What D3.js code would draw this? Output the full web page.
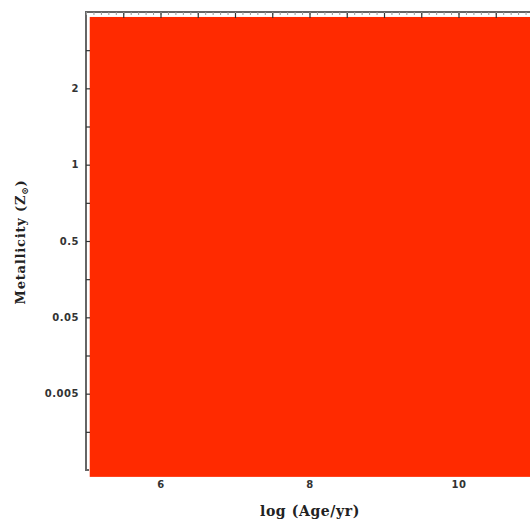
<!DOCTYPE html>
<html>
<head>
<meta charset="utf-8">
<script src="https://cdn.jsdelivr.net/npm/d3@7"></script>
<style>
  body { margin: 0; background: #fff; }
  .tick text { font-family: "DejaVu Sans", sans-serif; font-weight: bold; font-size: 10px; fill: #333; letter-spacing: 0.5px; }
  .lbl { font-family: "DejaVu Serif", serif; font-weight: bold; fill: #222; }
</style>
</head>
<body>
<div id="chart"></div>
<script>
// age range (log yr) shown on the x axis
var ageDomain = [5, 11];
// metallicity rows, bottom to top; only every second row is labelled
var zLabels = ["", "", "0.005", "", "0.05", "", "0.5", "", "1", "", "2", "", ""];
// the filled cell: log age from/to, row index from/to
var cellAge = [5.05, 11.2];
var cellRow = [-0.18, 11.87];
var cellColor = "#ff2a00";

var width = 530, height = 524;
var svg = d3.select("#chart").append("svg")
    .attr("width", width)
    .attr("height", height);

var x = d3.scaleLinear().domain(ageDomain).range([86, 533]);
var y = d3.scaleLinear().domain([0, zLabels.length - 1]).range([470, 12]);

// red cell
svg.append("rect")
    .attr("x", x(cellAge[0]))
    .attr("y", y(cellRow[1]))
    .attr("width", x(cellAge[1]) - x(cellAge[0]))
    .attr("height", y(cellRow[0]) - y(cellRow[1]))
    .attr("fill", cellColor);

// frame
svg.append("path")
    .attr("d", "M" + x(11.5) + "," + y(12) + "H" + x(5) + "V" + y(0) + "H" + (x(5) + 3))
    .attr("fill", "none")
    .attr("stroke", "#666")
    .attr("stroke-width", 2);

// top axis, minor ticks
var topAxis = d3.axisTop(x)
    .tickValues(d3.range(5, 11.01, 0.1))
    .tickSize(-3)
    .tickFormat("");
svg.append("g")
    .attr("transform", "translate(0," + y(12) + ")")
    .call(topAxis)
    .call(function(g) { g.select(".domain").remove(); })
    .selectAll("line").attr("stroke", "#999");

// top axis, major ticks
var topMajor = d3.axisTop(x)
    .tickValues(d3.range(5.5, 11.01, 0.5))
    .tickSize(-5)
    .tickFormat("");
svg.append("g")
    .attr("transform", "translate(0," + (y(12) + 1) + ")")
    .call(topMajor)
    .call(function(g) { g.select(".domain").remove(); })
    .selectAll("line").attr("stroke", "#333").attr("stroke-width", 1.2);

// bottom tick labels
var xAxis = d3.axisBottom(x)
    .tickValues([6, 8, 10])
    .tickSize(0)
    .tickPadding(8)
    .tickFormat(d3.format("d"));
svg.append("g")
    .attr("transform", "translate(0," + (y(0) + 3) + ")")
    .call(xAxis)
    .call(function(g) { g.select(".domain").remove(); });

// left axis
var yAxis = d3.axisLeft(y)
    .tickValues(d3.range(1, zLabels.length - 1))
    .tickSize(-4)
    .tickPadding(7)
    .tickFormat(function(d) { return zLabels[d]; });
svg.append("g")
    .attr("transform", "translate(" + x(5) + ",0)")
    .call(yAxis)
    .call(function(g) { g.select(".domain").remove(); })
    .selectAll("line").attr("stroke", "#333").attr("stroke-width", 1.2);

// axis titles
svg.append("text")
    .attr("class", "lbl")
    .attr("x", 310)
    .attr("y", 516)
    .attr("text-anchor", "middle")
    .attr("font-size", 14)
    .attr("letter-spacing", 0.6)
    .text("log (Age/yr)");

var yt = svg.append("text")
    .attr("class", "lbl")
    .attr("transform", "translate(25,242) rotate(-90)")
    .attr("text-anchor", "middle")
    .attr("font-size", 13)
    .attr("letter-spacing", 0.8);
yt.append("tspan").text("Metallicity (Z");
yt.append("tspan").attr("font-size", 9).attr("dy", 3).text("\u2299");
yt.append("tspan").attr("dy", -3).text(")");
</script>
</body>
</html>
